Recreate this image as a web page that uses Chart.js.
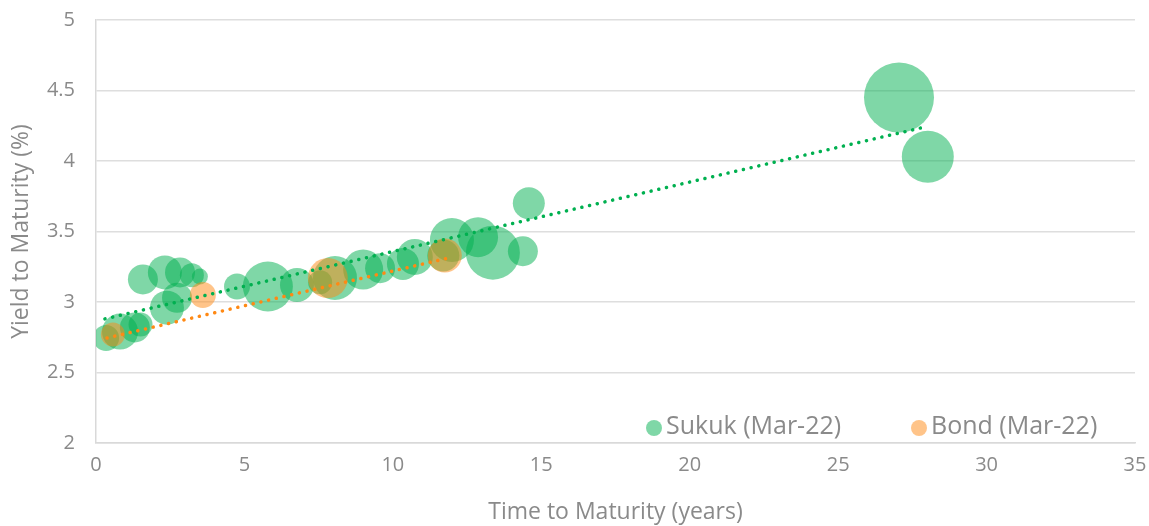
<!DOCTYPE html>
<html lang="en">
<head>
<meta charset="UTF-8">
<title>Sukuk vs Bond yield</title>
<script src="https://cdn.jsdelivr.net/npm/chart.js@4.4.1/dist/chart.umd.min.js"></script>
<style>
  html, body { margin: 0; padding: 0; background: #fff; }
  #wrap { width: 1149px; height: 526px; }
</style>
</head>
<body>
<div id="wrap"><canvas id="chart" width="1149" height="526"></canvas></div>
<script>
// values
const sukukX = [0.34, 0.81, 1.31, 1.5, 1.58, 2.32, 2.83, 3.23, 3.5, 2.39, 2.73, 4.75, 5.79, 6.77, 7.55, 8.05, 9.0, 9.57, 10.34, 10.74, 11.7, 11.99, 12.87, 13.37, 14.38, 14.58, 27.05, 28.02];
const sukukY = [2.745, 2.79, 2.82, 2.84, 3.16, 3.21, 3.21, 3.19, 3.18, 2.96, 3.03, 3.11, 3.11, 3.12, 3.14, 3.17, 3.23, 3.24, 3.27, 3.32, 3.33, 3.44, 3.46, 3.35, 3.36, 3.70, 4.45, 4.03];
const sukukSize = [13, 18, 15, 12, 15, 17, 15, 12, 8, 17, 15, 13, 25, 17, 12, 22, 20, 15, 16, 18, 16, 22, 20, 27, 15, 16, 35, 26];

const bondX = [0.57, 3.6, 7.81, 11.75];
const bondY = [2.77, 3.05, 3.17, 3.33];
const bondSize = [12, 13, 20, 17];

// trend line end points (as drawn)
const sukukTrendX = [0.3, 27.9];
const sukukTrendY = [2.88, 4.24];
const bondTrendX = [0.37, 11.83];
const bondTrendY = [2.745, 3.31];

const seriesNames = ['Sukuk (Mar-22)', 'Bond (Mar-22)'];
const xTitle = 'Time to Maturity (years)';
const yTitle = 'Yield to Maturity (%)';

const GREEN = 'rgb(0,176,80)';
const GREEN_FILL = 'rgba(0,176,80,0.5)';
const ORANGE = 'rgb(255,137,20)';
const ORANGE_FILL = 'rgba(255,137,20,0.5)';
const GREY = '#8a8a8a';
const FONT = "'Open Sans', sans-serif";

function toPoints(xs, ys, rs) {
  return xs.map((x, i) => rs ? { x: x, y: ys[i], r: rs[i] } : { x: x, y: ys[i] });
}

const dotted = {
  type: 'line',
  borderWidth: 3.5,
  borderDash: [0.1, 7.8],
  borderCapStyle: 'round',
  pointRadius: 0,
  fill: false,
  order: 0
};

// legend sits inside the plot, bottom right
const insideLegend = {
  id: 'insideLegend',
  afterDatasetsDraw(chart) {
    const ctx = chart.ctx;
    const items = [
      { label: seriesNames[0], color: GREEN_FILL, x: 654 },
      { label: seriesNames[1], color: ORANGE_FILL, x: 919 }
    ];
    ctx.save();
    ctx.font = "25px " + FONT;
    ctx.textBaseline = 'middle';
    items.forEach(it => {
      ctx.fillStyle = it.color;
      ctx.beginPath();
      ctx.arc(it.x, 428, 8, 0, Math.PI * 2);
      ctx.fill();
      ctx.fillStyle = GREY;
      ctx.fillText(it.label, it.x + 12, 427);
    });
    ctx.restore();
  }
};

new Chart(document.getElementById('chart'), {
  type: 'bubble',
  data: {
    datasets: [
      Object.assign({}, dotted, { label: 'sukuk trend', data: toPoints(sukukTrendX, sukukTrendY), borderColor: GREEN }),
      Object.assign({}, dotted, { label: 'bond trend', data: toPoints(bondTrendX, bondTrendY), borderColor: ORANGE }),
      { label: seriesNames[1], data: toPoints(bondX, bondY, bondSize), backgroundColor: ORANGE_FILL, borderWidth: 0, order: 1 },
      { label: seriesNames[0], data: toPoints(sukukX, sukukY, sukukSize), backgroundColor: GREEN_FILL, borderWidth: 0, order: 2 }
    ]
  },
  options: {
    responsive: false,
    animation: false,
    layout: { autoPadding: false, padding: { top: 20, right: 14, left: 0, bottom: 0 } },
    plugins: { legend: { display: false }, tooltip: { enabled: false } },
    scales: {
      x: {
        type: 'linear', min: 0, max: 35,
        ticks: { stepSize: 5, color: GREY, font: { family: FONT, size: 20 }, padding: 0, callback: v => String(v) },
        grid: { drawOnChartArea: false, drawTicks: true, tickLength: 10, tickColor: 'rgba(0,0,0,0)' },
        border: { display: true, color: '#d9d9d9', width: 1.5 },
        title: { display: true, text: xTitle, color: GREY, font: { family: FONT, size: 23 }, padding: { top: 4, bottom: 0 } },
        afterFit(s) { s.height = 83; }
      },
      y: {
        min: 2, max: 5,
        ticks: { stepSize: 0.5, color: GREY, font: { family: FONT, size: 20 }, padding: 0, callback: v => String(v) },
        grid: { color: '#dedede', lineWidth: 1.5, drawTicks: true, tickLength: 21, tickColor: 'rgba(0,0,0,0)' },
        border: { display: true, color: '#d9d9d9', width: 1.5 },
        title: { display: true, text: yTitle, color: GREY, font: { family: FONT, size: 23 }, padding: { top: 8, bottom: 6 } },
        afterFit(s) { s.width = 96; }
      }
    }
  },
  plugins: [insideLegend]
});
</script>
</body>
</html>
